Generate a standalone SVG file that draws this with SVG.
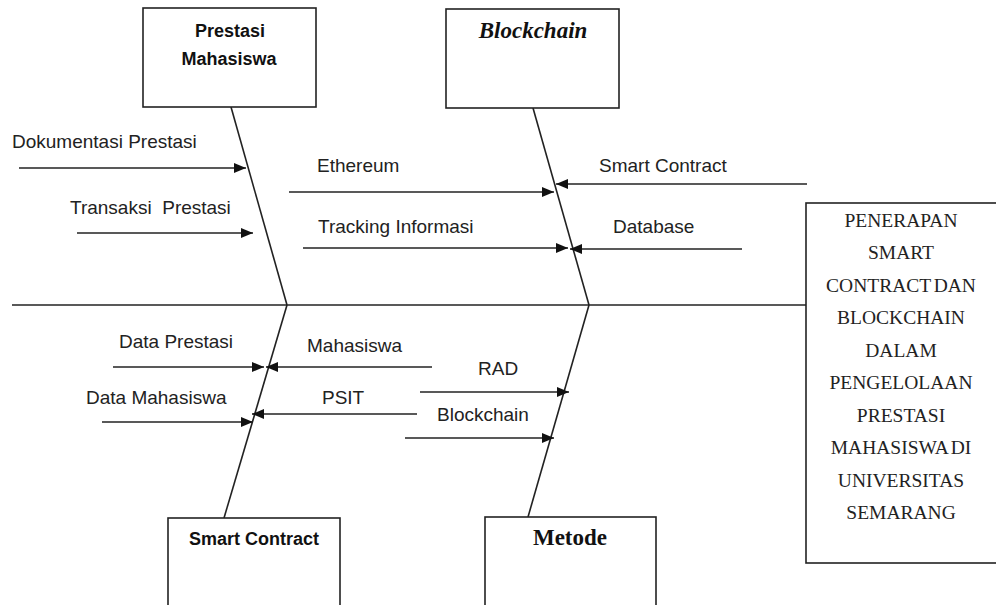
<svg xmlns="http://www.w3.org/2000/svg" width="996" height="605" viewBox="0 0 996 605">
<style>
  .box { fill: #fff; stroke: #222; stroke-width: 1.6; }
  .line { stroke: #222; stroke-width: 1.6; fill: none; }
  .arr { stroke: #222; stroke-width: 1.6; fill: none; marker-end: url(#ah); }
  .lbl { font-family: "Liberation Sans", Arial, sans-serif; font-size: 19px; fill: #222; }
  .ttl { font-family: "Liberation Sans", Arial, sans-serif; font-size: 18px; font-weight: bold; fill: #111; text-anchor: middle; }
  .sttl { font-family: "Liberation Serif", "Times New Roman", serif; font-size: 23px; font-weight: bold; fill: #111; text-anchor: middle; }
  .eff { font-family: "Liberation Serif", "Times New Roman", serif; font-size: 19.5px; fill: #222; text-anchor: middle; }
</style>
<defs>
  <marker id="ah" markerUnits="userSpaceOnUse" markerWidth="14" markerHeight="12" refX="12" refY="5" orient="auto">
    <path d="M0,0 L12,5 L0,10 Z" fill="#111"/>
  </marker>
</defs>
<rect width="996" height="605" fill="#fff"/>

<g id="connectors">
  <line class="line" x1="12" y1="305" x2="806" y2="305"/>
  <line class="line" x1="231" y1="107" x2="287" y2="305"/>
  <line class="line" x1="533" y1="108" x2="589" y2="305"/>
  <line class="line" x1="287" y1="305" x2="224" y2="518"/>
  <line class="line" x1="589" y1="305" x2="528" y2="517"/>
  <line class="arr" x1="19" y1="168" x2="246" y2="168"/>
  <line class="arr" x1="77" y1="233" x2="253" y2="233"/>
  <line class="arr" x1="289" y1="192" x2="554" y2="192"/>
  <line class="arr" x1="807" y1="184" x2="556" y2="184"/>
  <line class="arr" x1="303" y1="248" x2="568" y2="248"/>
  <line class="arr" x1="742" y1="249" x2="570" y2="249"/>
  <line class="arr" x1="113" y1="367" x2="264" y2="367"/>
  <line class="arr" x1="432" y1="367" x2="266" y2="367"/>
  <line class="arr" x1="102" y1="422" x2="253" y2="422"/>
  <line class="arr" x1="417" y1="414" x2="252" y2="414"/>
  <line class="arr" x1="420" y1="392" x2="569" y2="392"/>
  <line class="arr" x1="405" y1="438" x2="554" y2="438"/>
</g>

<g id="labels">
  <text class="lbl" x="12" y="148">Dokumentasi Prestasi</text>
  <text class="lbl" x="70" y="214" xml:space="preserve">Transaksi  Prestasi</text>
  <text class="lbl" x="317" y="172">Ethereum</text>
  <text class="lbl" x="599" y="172">Smart Contract</text>
  <text class="lbl" x="318" y="233">Tracking Informasi</text>
  <text class="lbl" x="613" y="233">Database</text>
  <text class="lbl" x="119" y="348">Data Prestasi</text>
  <text class="lbl" x="307" y="352">Mahasiswa</text>
  <text class="lbl" x="86" y="404">Data Mahasiswa</text>
  <text class="lbl" x="322" y="404">PSIT</text>
  <text class="lbl" x="478" y="375">RAD</text>
  <text class="lbl" x="437" y="421">Blockchain</text>
</g>

<g id="prestasi-mahasiswa">
  <rect class="box" x="143" y="8" width="173" height="99"/>
  <text class="ttl" x="230" y="37">Prestasi</text>
  <text class="ttl" x="229" y="65">Mahasiswa</text>
</g>

<g id="blockchain">
  <rect class="box" x="446" y="9" width="173" height="99"/>
  <text class="sttl" x="533" y="38" font-style="italic">Blockchain</text>
</g>

<g id="smart-contract">
  <rect class="box" x="168" y="518" width="172" height="110"/>
  <text class="ttl" x="254" y="545">Smart Contract</text>
</g>

<g id="metode">
  <rect class="box" x="485" y="517" width="171" height="110"/>
  <text class="sttl" x="570" y="545">Metode</text>
</g>

<g id="effect">
  <rect class="box" x="806" y="203" width="200" height="360"/>
  <text class="eff" x="901" y="227">PENERAPAN</text>
  <text class="eff" x="901" y="259">SMART</text>
  <text class="eff" x="901" y="292" word-spacing="-2">CONTRACT DAN</text>
  <text class="eff" x="901" y="324">BLOCKCHAIN</text>
  <text class="eff" x="901" y="357">DALAM</text>
  <text class="eff" x="901" y="389">PENGELOLAAN</text>
  <text class="eff" x="901" y="422">PRESTASI</text>
  <text class="eff" x="901" y="454" word-spacing="-2">MAHASISWA DI</text>
  <text class="eff" x="901" y="487">UNIVERSITAS</text>
  <text class="eff" x="901" y="519">SEMARANG</text>
</g>
</svg>
